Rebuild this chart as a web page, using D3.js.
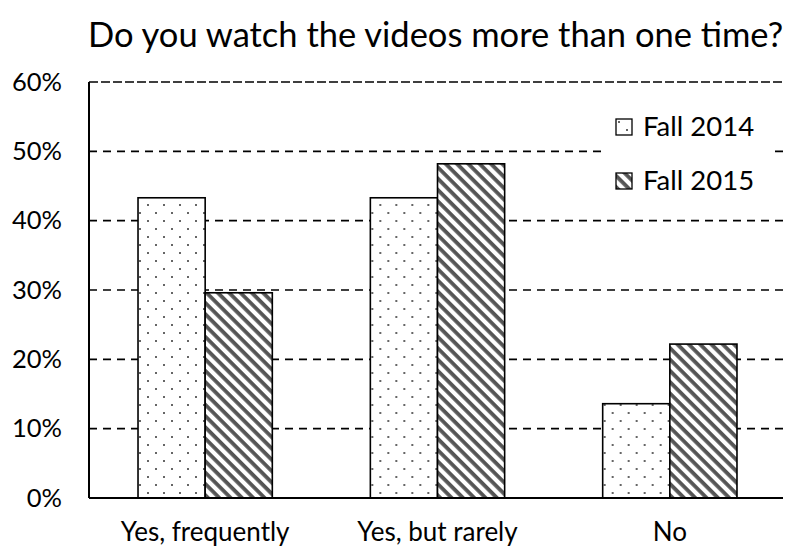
<!DOCTYPE html>
<html>
<head>
<meta charset="utf-8">
<script src="https://cdn.jsdelivr.net/npm/d3@7"></script>
<style>
  html, body { margin: 0; padding: 0; background: #fff; }
  svg { display: block; }
  text { font-family: Lato, "Open Sans", sans-serif; fill: #000; }
</style>
</head>
<body>
<svg id="chart" width="786" height="550"></svg>
<script>
// Survey responses, share of students per answer
const categories = ["Yes, frequently", "Yes, but rarely", "No"];
const seriesNames = ["Fall 2014", "Fall 2015"];
const fall2014 = [0.433, 0.433, 0.136];
const fall2015 = [0.296, 0.482, 0.222];
const yTicks = [0, 0.1, 0.2, 0.3, 0.4, 0.5, 0.6];
const title = "Do you watch the videos more than one time?";

const width = 786, height = 550;
const margin = { top: 82, right: 0, bottom: 52, left: 89 };
const innerW = width - margin.left - margin.right;
const innerH = height - margin.top - margin.bottom;
const fontFamily = "Lato, 'Open Sans', sans-serif";

const svg = d3.select("#chart");

// Fill patterns: dotted for 2014, diagonal hatch for 2015
const defs = svg.append("defs");
const dots = defs.append("pattern")
  .attr("id", "dots").attr("patternUnits", "userSpaceOnUse")
  .attr("width", 16).attr("height", 16);
dots.append("rect").attr("width", 16).attr("height", 16).attr("fill", "#fff");
dots.append("rect").attr("x", 2).attr("y", 2).attr("width", 2).attr("height", 2).attr("fill", "#666");
dots.append("rect").attr("x", 10).attr("y", 10).attr("width", 2).attr("height", 2).attr("fill", "#666");

const hatch = defs.append("pattern")
  .attr("id", "hatch").attr("patternUnits", "userSpaceOnUse")
  .attr("width", 8).attr("height", 8)
  .attr("patternTransform", "rotate(45)");
hatch.append("rect").attr("width", 8).attr("height", 8).attr("fill", "#fff");
hatch.append("rect").attr("x", 0).attr("y", 0).attr("width", 8).attr("height", 3.8).attr("fill", "#555");

const fills = ["url(#dots)", "url(#hatch)"];

const x0 = d3.scaleBand().domain(categories).range([0, innerW]).paddingInner(0).paddingOuter(0);
const x1 = d3.scaleBand().domain(seriesNames).range([0, x0.bandwidth()]).paddingInner(0).paddingOuter(0.73);
const y = d3.scaleLinear().domain([0, 0.6]).range([innerH, 0]);

const g = svg.append("g").attr("transform", `translate(${margin.left},${margin.top})`);

// Title
svg.append("text")
  .attr("x", 88).attr("y", 47)
  .attr("font-size", 34.5)
  .text(title);

// Dashed gridlines
g.append("g").selectAll("line")
  .data(yTicks.filter(d => d > 0))
  .join("line")
  .attr("x1", 0).attr("x2", innerW - 3)
  .attr("y1", d => y(d)).attr("y2", d => y(d))
  .attr("stroke", "#000").attr("stroke-width", 1.6)
  .attr("stroke-dasharray", d => d === 0.6 ? "9,3" : "8,6");

// Y axis labels
const yAxis = d3.axisLeft(y).tickValues(yTicks).tickFormat(d3.format(".0%")).tickSize(0).tickPadding(27);
g.append("g").call(yAxis)
  .call(s => s.select(".domain").remove())
  .selectAll("text")
  .attr("font-size", 25.5).attr("font-family", fontFamily);

// Bars
const rows = categories.map((c, i) => ({ cat: c, vals: [fall2014[i], fall2015[i]] }));
const groups = g.append("g").selectAll("g")
  .data(rows).join("g")
  .attr("transform", d => `translate(${x0(d.cat)},0)`);
groups.selectAll("rect")
  .data(d => d.vals.map((v, k) => ({ v, k })))
  .join("rect")
  .attr("x", d => x1(seriesNames[d.k]))
  .attr("y", d => y(d.v))
  .attr("width", x1.bandwidth())
  .attr("height", d => innerH - y(d.v))
  .attr("fill", d => fills[d.k])
  .attr("stroke", "#000").attr("stroke-width", 1.6);

// Axis lines
g.append("line").attr("x1", 0).attr("x2", 0).attr("y1", 0).attr("y2", innerH)
  .attr("stroke", "#000").attr("stroke-width", 2);
g.append("line").attr("x1", 0).attr("x2", innerW - 3).attr("y1", innerH).attr("y2", innerH)
  .attr("stroke", "#000").attr("stroke-width", 2);

// X axis labels
const xAxis = d3.axisBottom(x0).tickSize(0).tickPadding(25);
g.append("g").attr("transform", `translate(0,${innerH})`).call(xAxis)
  .call(s => s.select(".domain").remove())
  .selectAll("text")
  .attr("font-size", 26).attr("font-family", fontFamily);

// Legend
const legend = svg.append("g").attr("transform", "translate(603,104)");
legend.append("rect").attr("width", 167).attr("height", 100).attr("fill", "#fff");
const items = legend.selectAll("g.item").data(seriesNames).join("g")
  .attr("class", "item")
  .attr("transform", (d, i) => `translate(13,${15 + i * 54})`);
items.append("rect")
  .attr("width", 16).attr("height", 16)
  .attr("fill", (d, i) => fills[i])
  .attr("stroke", "#000").attr("stroke-width", 1.3);
items.append("text")
  .attr("x", 27).attr("y", 17)
  .attr("font-size", 27.5)
  .text(d => d);
</script>
</body>
</html>
